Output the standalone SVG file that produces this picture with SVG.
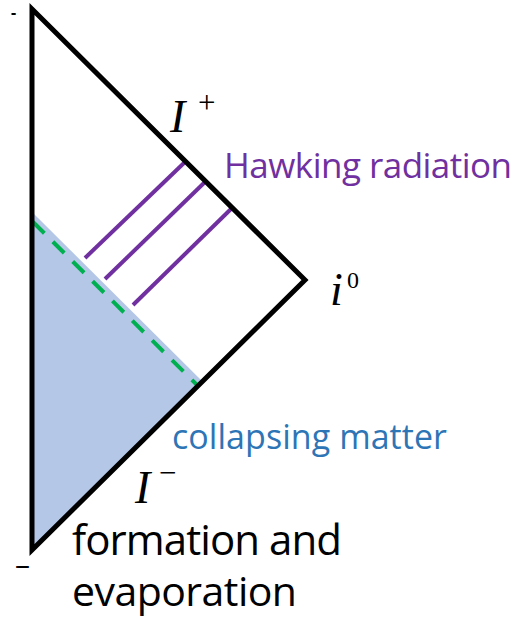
<svg xmlns="http://www.w3.org/2000/svg" width="516" height="618" viewBox="0 0 516 618">
  <style>
    .label { font-family: "Open Sans", "Liberation Sans", sans-serif; }
    .math { font-family: "Liberation Serif", "DejaVu Serif", serif; fill: #000; }
    .hawk { stroke: #7030A0; stroke-width: 4; stroke-linecap: butt; fill: none; }
  </style>
  <rect width="516" height="618" fill="#fff"/>
  <g id="matter-region">
    <polygon points="32,212 203,382 32,550" fill="#B4C7E7"/>
  </g>
  <g id="connectors">
    <line id="horizon" x1="33" y1="222" x2="198" y2="386" stroke="#00B050" stroke-width="4" stroke-dasharray="16 12"/>
    <line class="hawk" x1="85" y1="258" x2="185" y2="162"/>
    <line class="hawk" x1="105" y1="279" x2="205" y2="182"/>
    <line class="hawk" x1="133" y1="305" x2="232" y2="208"/>
  </g>
  <g id="penrose-triangle">
    <polygon points="32,9 305,280 32,550" fill="none" stroke="#000" stroke-width="5" stroke-linejoin="miter"/>
  </g>
  <g id="ticks">
    <text x="11" y="18" class="label" font-size="16" font-weight="bold" fill="#000">-</text>
    <text x="15" y="575" class="label" font-size="30" fill="#000">–</text>
  </g>
  <g id="scri-plus">
    <text x="170" y="132" class="math" font-size="46" font-style="italic">I</text>
    <text x="198" y="113" class="math" font-size="31">+</text>
  </g>
  <g id="i-zero">
    <text x="330" y="305" class="math" font-size="46" font-style="italic">i</text>
    <text x="347" y="288" class="math" font-size="24">0</text>
  </g>
  <g id="scri-minus">
    <text x="135" y="503" class="math" font-size="46" font-style="italic">I</text>
    <text x="159" y="483" class="math" font-size="31">−</text>
  </g>
  <g id="hawking-label">
    <text x="224" y="178" class="label" font-size="35" fill="#7030A0" textLength="288">Hawking radiation</text>
  </g>
  <g id="collapsing-label">
    <text x="172" y="449" class="label" font-size="34" fill="#2E75B6" textLength="275">collapsing matter</text>
  </g>
  <g id="formation-label">
    <text x="72" y="555" class="label" font-size="42" fill="#000" textLength="270">formation and</text>
    <text x="72" y="606" class="label" font-size="41" fill="#000" textLength="225">evaporation</text>
  </g>
</svg>
